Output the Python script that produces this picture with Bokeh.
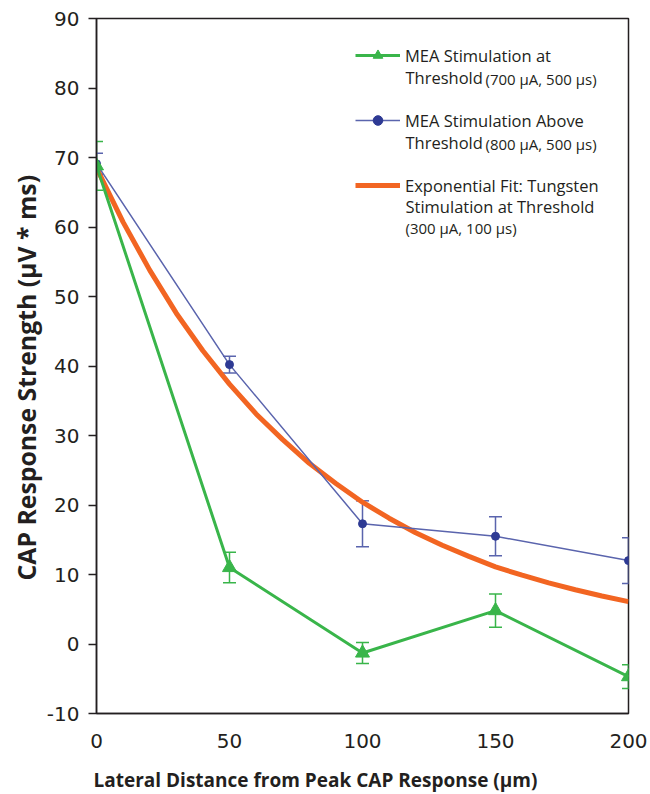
from bokeh.plotting import figure
from bokeh.models import (Range1d, Whisker, TeeHead, ColumnDataSource, Legend,
                          LegendItem, Label, FixedTicker, Title)
from bokeh.embed import file_html
from bokeh.resources import INLINE

# ---------------- data ----------------
distance = [0, 50, 100, 150, 200]
thr_mean = [68.8, 11.0, -1.3, 4.8, -4.7]
thr_err = [3.5, 2.2, 1.5, 2.4, 1.7]
above_mean = [69.1, 40.2, 17.3, 15.5, 12.0]
above_err = [1.5, 1.2, 3.3, 2.8, 3.3]
fit_x = [0, 10, 20, 30, 40, 50, 60, 70, 80, 90, 100,
         110, 120, 130, 140, 150, 160, 170, 180, 190, 200]
fit_y = [68.5, 60.7, 53.8, 47.6, 42.2, 37.4, 33.1, 29.4, 26.0, 23.1, 20.4,
         18.1, 16.0, 14.2, 12.6, 11.1, 9.9, 8.8, 7.8, 6.9, 6.1]
x_ticks = [0, 50, 100, 150, 200]
y_ticks = [-10, 0, 10, 20, 30, 40, 50, 60, 70, 80, 90]

x_title = "Lateral Distance from Peak CAP Response (\u03bcm)"
y_title = "CAP Response Strength (\u03bcV * ms)"
legend_lines = [
    ["MEA Stimulation at", "Threshold", "(700 \u03bcA, 500 \u03bcs)"],
    ["MEA Stimulation Above", "Threshold", "(800 \u03bcA, 500 \u03bcs)"],
    ["Exponential Fit: Tungsten", "Stimulation at Threshold", "(300 \u03bcA, 100 \u03bcs)"],
]

GREEN = "#39b54a"
BLUE_LINE = "#5a64ad"
BLUE_DOT = "#2e3a94"
ORANGE = "#f26522"
INK = "#231f20"
TICK_FONT = "DejaVu Sans"
LABEL_FONT = "Open Sans"

p = figure(width=650, height=794, x_range=Range1d(0, 200), y_range=Range1d(-10, 90),
           output_backend="svg", toolbar_location=None,
           min_border_left=96, min_border_right=22, min_border_top=18, min_border_bottom=81)
p.background_fill_color = "white"
p.border_fill_color = "white"
p.outline_line_color = INK
p.outline_line_width = 1.5
p.xgrid.visible = False
p.ygrid.visible = False

# axes
xa = p.xaxis[0]
xa.ticker = FixedTicker(ticks=x_ticks)
xa.major_tick_out = 0
xa.major_tick_in = 0
xa.minor_tick_out = 0
xa.minor_tick_in = 0
xa.major_label_standoff = 20
xa.axis_line_color = INK
xa.axis_line_width = 1.5
xa.major_label_text_font = TICK_FONT
xa.major_label_text_font_size = "20px"
xa.major_label_text_color = INK

ya = p.yaxis[0]
ya.ticker = FixedTicker(ticks=y_ticks)
ya.major_label_overrides = {t: str(t) for t in y_ticks}
ya.major_tick_out = 8
ya.major_tick_in = 0
ya.minor_tick_out = 0
ya.minor_tick_in = 0
ya.major_tick_line_color = INK
ya.major_tick_line_width = 1.5
ya.major_label_standoff = 9
ya.axis_line_color = INK
ya.axis_line_width = 1.5
ya.major_label_text_font = TICK_FONT
ya.major_label_text_font_size = "20px"
ya.major_label_text_color = INK

# frame: left=96, bottom=713 in page px
FRAME_L, FRAME_B = 96, 713

# y-axis title as a left panel title (offset like the original)
p.add_layout(Title(text=y_title, align="left", offset=133, standoff=2,
                   text_font=LABEL_FONT, text_font_style="bold",
                   text_font_size="24.8px", text_color=INK), "left")
# x-axis title in the bottom panel, left-shifted as in the original
p.add_layout(Label(x=93 - FRAME_L, y=-3, x_units="screen", y_units="screen",
                   text=x_title, text_font=LABEL_FONT, text_font_style="bold",
                   text_font_size="19px", text_color=INK,
                   text_baseline="middle", text_align="left"), "below")

# error bars
thr_src = ColumnDataSource(dict(x=distance, y=thr_mean,
                                upper=[m + e for m, e in zip(thr_mean, thr_err)],
                                lower=[m - e for m, e in zip(thr_mean, thr_err)]))
abv_src = ColumnDataSource(dict(x=distance, y=above_mean,
                                upper=[m + e for m, e in zip(above_mean, above_err)],
                                lower=[m - e for m, e in zip(above_mean, above_err)]))

for src, col in [(thr_src, GREEN), (abv_src, BLUE_LINE)]:
    w = Whisker(base="x", upper="upper", lower="lower", source=src, dimension="height",
                line_color=col, line_width=1.5,
                upper_head=TeeHead(size=13, line_color=col, line_width=1.5),
                lower_head=TeeHead(size=13, line_color=col, line_width=1.5))
    p.add_layout(w)

# fit curve
fit_r = p.line(fit_x, fit_y, line_color=ORANGE, line_width=5)

# series
b_line = p.line("x", "y", source=abv_src, line_color=BLUE_LINE, line_width=1.5)
b_pts = p.scatter("x", "y", source=abv_src, marker="circle", size=8,
                  fill_color=BLUE_DOT, line_color=BLUE_DOT)
g_line = p.line("x", "y", source=thr_src, line_color=GREEN, line_width=3)
g_pts = p.scatter("x", "y", source=thr_src, marker="triangle", size=14,
                  fill_color=GREEN, line_color=GREEN)

# legend (first lines) + continuation lines as labels
legend = Legend(items=[
    LegendItem(label=legend_lines[0][0], renderers=[g_line, g_pts]),
    LegendItem(label=legend_lines[1][0], renderers=[b_line, b_pts]),
    LegendItem(label=legend_lines[2][0], renderers=[fit_r]),
], location=(259, 516), orientation="vertical", glyph_width=45, glyph_height=24,
    label_height=24, spacing=41, padding=0, margin=0, border_line_color=None,
    background_fill_alpha=0, label_standoff=5, label_text_font=LABEL_FONT,
    label_text_font_size="16.5px", label_text_color=INK)
p.add_layout(legend)

def add_text(txt, px, py, size):
    p.add_layout(Label(x=px - FRAME_L, y=FRAME_B - py, x_units="screen", y_units="screen",
                       text=txt, text_font=LABEL_FONT, text_font_size=size,
                       text_color=INK, text_baseline="middle", text_align="left"))

add_text(legend_lines[0][1], 405, 77, "16.5px")
add_text(legend_lines[0][2], 485, 78, "15px")
add_text(legend_lines[1][1], 405, 142, "16.5px")
add_text(legend_lines[1][2], 485, 143, "15px")
add_text(legend_lines[2][1], 405, 206, "16.5px")
add_text(legend_lines[2][2], 405, 227, "15px")

open("out.html", "w").write(file_html(p, INLINE))
